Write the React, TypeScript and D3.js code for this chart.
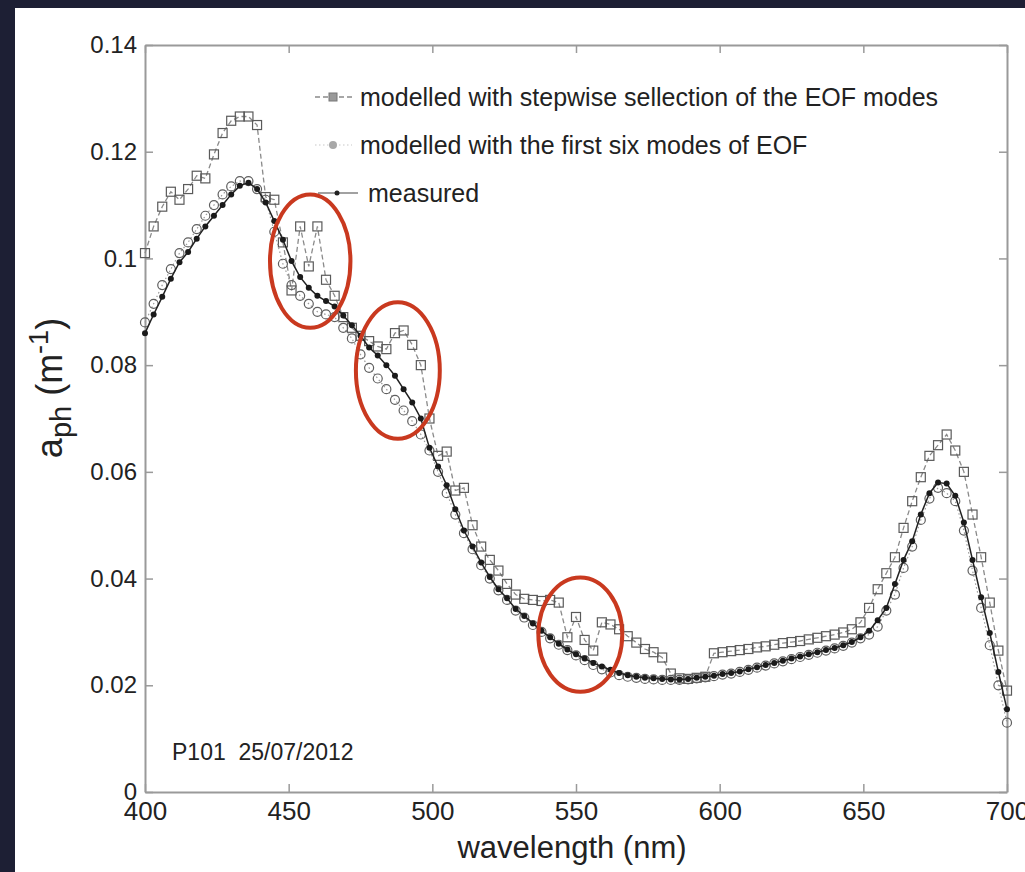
import React, { useEffect, useRef } from "react";
import * as d3 from "d3";

// wavelengths every 3 nm, 400..700
const wavelengths = d3.range(400, 701, 3);

const measured = [
  0.086, 0.0895, 0.0928, 0.0962, 0.0993, 0.1012, 0.1037, 0.106, 0.108, 0.11,
  0.112, 0.1136, 0.1142, 0.113, 0.1105, 0.107, 0.1035, 0.0995, 0.0965, 0.0945,
  0.093, 0.092, 0.091, 0.0893, 0.0875, 0.0855, 0.0833, 0.0818, 0.08, 0.078,
  0.0755, 0.073, 0.07, 0.0645, 0.061, 0.0575, 0.053, 0.049, 0.046, 0.043,
  0.0403, 0.038, 0.0363, 0.0343, 0.033, 0.0316, 0.0302, 0.029, 0.0278, 0.0267,
  0.0258, 0.025, 0.0242, 0.0235, 0.0229, 0.0223, 0.0219, 0.0216, 0.0214, 0.0213,
  0.0212, 0.0211, 0.0211, 0.0212, 0.0214, 0.0216, 0.0218, 0.0221, 0.0223, 0.0226,
  0.023, 0.0234, 0.0238, 0.0242, 0.0246, 0.025, 0.0254, 0.0258, 0.0262, 0.0266,
  0.027, 0.0275, 0.0281, 0.029, 0.0302, 0.0322, 0.0345, 0.039, 0.0435, 0.047,
  0.052, 0.056, 0.058, 0.0578, 0.0555, 0.0505, 0.0435, 0.0365, 0.0298, 0.0225,
  0.0155,
];

const sixModes = [
  0.088, 0.0915, 0.095, 0.098, 0.101, 0.103, 0.1055, 0.108, 0.11, 0.112,
  0.1135, 0.1145, 0.1145, 0.113, 0.111, 0.105, 0.099, 0.095, 0.093, 0.0915,
  0.09, 0.0895, 0.089, 0.087, 0.085, 0.082, 0.0795, 0.0775, 0.0755, 0.0735,
  0.0715, 0.0695, 0.067, 0.064, 0.06, 0.056, 0.052, 0.0485, 0.0455, 0.0425,
  0.04, 0.0378, 0.036, 0.034, 0.0327, 0.0313, 0.03, 0.0288, 0.0276, 0.0266,
  0.0256, 0.0247, 0.0238, 0.023, 0.0224, 0.0219, 0.0216, 0.0214, 0.0212, 0.0211,
  0.021, 0.021, 0.021, 0.0211, 0.0213, 0.0215, 0.0217, 0.022, 0.0222, 0.0225,
  0.0229, 0.0233, 0.0237, 0.0241, 0.0245, 0.0249, 0.0253, 0.0257, 0.0261, 0.0265,
  0.0269, 0.0274, 0.028, 0.0288, 0.0295, 0.031, 0.034, 0.037, 0.042, 0.046,
  0.051, 0.055, 0.057, 0.056, 0.0545, 0.049, 0.0415, 0.0345, 0.0275, 0.02,
  0.013,
];

const stepwise = [
  0.101, 0.106, 0.1097, 0.1125, 0.111, 0.113, 0.1155, 0.115, 0.1195, 0.1235,
  0.1258, 0.1266, 0.1266, 0.125, 0.1115, 0.111, 0.103, 0.094, 0.106, 0.0985,
  0.106, 0.096, 0.093, 0.089, 0.087, 0.0855, 0.0845, 0.0835, 0.083, 0.086,
  0.0865, 0.0838, 0.08, 0.07, 0.063, 0.0638, 0.0565, 0.057, 0.05, 0.046,
  0.0435, 0.0415, 0.039, 0.037, 0.0362, 0.036, 0.0358, 0.036, 0.0355, 0.029,
  0.0328, 0.0285, 0.0265, 0.0318, 0.0314, 0.0305, 0.0292, 0.028, 0.0268, 0.0262,
  0.0252, 0.0222, 0.0213, 0.0212, 0.0214, 0.0216, 0.026, 0.0262, 0.0264, 0.0266,
  0.0268, 0.0271, 0.0273, 0.0276, 0.0279, 0.0281, 0.0283, 0.0286, 0.0289, 0.0292,
  0.0295, 0.0299, 0.0305, 0.0318, 0.0345, 0.038, 0.041, 0.044, 0.0495, 0.0545,
  0.059, 0.063, 0.065, 0.067, 0.064, 0.06, 0.052, 0.044, 0.0355, 0.0265,
  0.019,
];

const xTicks = [400, 450, 500, 550, 600, 650, 700];
const yTicks = [0, 0.02, 0.04, 0.06, 0.08, 0.1, 0.12, 0.14];

const legendLabels = [
  "modelled with stepwise sellection of the EOF modes",
  "modelled with the first six modes of EOF",
  "measured",
];

// highlighted wavelength regions [centre nm, centre value, half width nm, half height]
const highlights = [
  [457.5, 0.0995, 14, 0.0125],
  [488, 0.079, 14.6, 0.0128],
  [551.5, 0.0295, 14.6, 0.0107],
];

const FONT = "'Liberation Sans', Arial, Helvetica, sans-serif";
const INK = "#222";

function App() {
  const svgRef = useRef<SVGSVGElement>(null);

  useEffect(() => {
    const w = 1025;
    const h = 872;
    const svg = d3.select(svgRef.current).attr("width", w).attr("height", h);
    svg.selectAll("*").remove();

    // slide background + white figure
    svg.append("rect").attr("width", w).attr("height", h).attr("fill", "#1d1f34");
    svg.append("rect").attr("x", 15).attr("y", 8).attr("width", w - 15).attr("height", h - 8).attr("fill", "#ffffff");

    const x = d3.scaleLinear().domain([400, 700]).range([145, 1007]);
    const y = d3.scaleLinear().domain([0, 0.14]).range([792, 45]);

    const fmt = (d) => String(+(+d).toFixed(2));

    const styleAxis = (g, size) => {
      g.select(".domain").attr("stroke", "#9a9a9a").attr("stroke-width", 2);
      g.selectAll(".tick line").attr("stroke", "#9a9a9a").attr("stroke-width", 1.5);
      g.selectAll(".tick text").attr("fill", INK).attr("font-size", size).attr("font-family", FONT);
    };

    svg.append("g")
      .attr("transform", `translate(0, ${y(0)})`)
      .call(d3.axisBottom(x).tickValues(xTicks).tickSizeInner(-8).tickSizeOuter(0).tickPadding(10).tickFormat(d3.format("d")))
      .call((g) => styleAxis(g, 26));
    svg.append("g")
      .attr("transform", `translate(0, ${y(0.14)})`)
      .call(d3.axisTop(x).tickValues(xTicks).tickSizeInner(-8).tickSizeOuter(0).tickFormat(() => ""))
      .call((g) => styleAxis(g, 26));
    svg.append("g")
      .attr("transform", `translate(${x(400)}, 0)`)
      .call(d3.axisLeft(y).tickValues(yTicks).tickSizeInner(-8).tickSizeOuter(0).tickPadding(8).tickFormat(fmt))
      .call((g) => styleAxis(g, 24));
    svg.append("g")
      .attr("transform", `translate(${x(700)}, 0)`)
      .call(d3.axisRight(y).tickValues(yTicks).tickSizeInner(-8).tickSizeOuter(0).tickFormat(() => ""))
      .call((g) => styleAxis(g, 24));

    const rows = wavelengths.map((nm, i) => ({ nm, m: measured[i], c: sixModes[i], s: stepwise[i] }));

    // stepwise: dashed line + open squares
    svg.append("path")
      .datum(rows)
      .attr("fill", "none")
      .attr("stroke", "#8a8a8a")
      .attr("stroke-width", 1.3)
      .attr("stroke-dasharray", "5,3")
      .attr("d", d3.line().x((d) => x(d.nm)).y((d) => y(d.s)));
    svg.append("g")
      .selectAll("rect")
      .data(rows)
      .join("rect")
      .attr("x", (d) => x(d.nm) - 4.5)
      .attr("y", (d) => y(d.s) - 4.5)
      .attr("width", 9)
      .attr("height", 9)
      .attr("fill", "none")
      .attr("stroke", "#5a5a5a")
      .attr("stroke-width", 1.2);

    // six modes: dotted line + open circles
    svg.append("path")
      .datum(rows)
      .attr("fill", "none")
      .attr("stroke", "#9a9a9a")
      .attr("stroke-width", 1.2)
      .attr("stroke-dasharray", "1.5,2.5")
      .attr("d", d3.line().x((d) => x(d.nm)).y((d) => y(d.c)));
    svg.append("g")
      .selectAll("circle")
      .data(rows)
      .join("circle")
      .attr("cx", (d) => x(d.nm))
      .attr("cy", (d) => y(d.c))
      .attr("r", 4.5)
      .attr("fill", "none")
      .attr("stroke", "#5e5e5e")
      .attr("stroke-width", 1.2);

    // measured: solid line + filled dots
    svg.append("path")
      .datum(rows)
      .attr("fill", "none")
      .attr("stroke", "#222")
      .attr("stroke-width", 1.5)
      .attr("d", d3.line().x((d) => x(d.nm)).y((d) => y(d.m)));
    svg.append("g")
      .selectAll("circle")
      .data(rows)
      .join("circle")
      .attr("cx", (d) => x(d.nm))
      .attr("cy", (d) => y(d.m))
      .attr("r", 3)
      .attr("fill", "#1a1a1a");

    // red ellipses
    svg.append("g")
      .selectAll("ellipse")
      .data(highlights)
      .join("ellipse")
      .attr("cx", (d) => x(d[0]))
      .attr("cy", (d) => y(d[1]))
      .attr("rx", (d) => x(d[0] + d[2]) - x(d[0]))
      .attr("ry", (d) => y(d[1] - d[3]) - y(d[1]))
      .attr("fill", "none")
      .attr("stroke", "#c9391f")
      .attr("stroke-width", 4);

    // legend
    const leg = svg.append("g").attr("font-family", FONT).attr("font-size", 25).attr("fill", INK);
    const ly = [97, 145, 193];
    leg.append("line").attr("x1", 315).attr("x2", 352).attr("y1", ly[0]).attr("y2", ly[0])
      .attr("stroke", "#8a8a8a").attr("stroke-width", 1.3).attr("stroke-dasharray", "5,3");
    leg.append("rect").attr("x", 329).attr("y", ly[0] - 4).attr("width", 8).attr("height", 8)
      .attr("fill", "#9a9a9a").attr("stroke", "#777");
    leg.append("line").attr("x1", 315).attr("x2", 352).attr("y1", ly[1]).attr("y2", ly[1])
      .attr("stroke", "#c8c8c8").attr("stroke-width", 1.2).attr("stroke-dasharray", "1.5,2.5");
    leg.append("circle").attr("cx", 333).attr("cy", ly[1]).attr("r", 4).attr("fill", "#a8a8a8");
    leg.append("line").attr("x1", 318).attr("x2", 358).attr("y1", ly[2]).attr("y2", ly[2])
      .attr("stroke", "#444").attr("stroke-width", 1.2);
    leg.append("circle").attr("cx", 337).attr("cy", ly[2]).attr("r", 2.5).attr("fill", "#222");
    leg.selectAll("text")
      .data(legendLabels)
      .join("text")
      .attr("x", (d, i) => (i === 2 ? 368 : 360))
      .attr("y", (d, i) => ly[i])
      .attr("dy", "0.35em")
      .text((d) => d);

    // annotation
    svg.append("text")
      .attr("x", 172)
      .attr("y", 760)
      .attr("font-family", FONT)
      .attr("font-size", 23)
      .attr("fill", INK)
      .style("white-space", "pre")
      .text("P101  25/07/2012");

    // axis labels
    svg.append("text")
      .attr("x", 572)
      .attr("y", 858)
      .attr("text-anchor", "middle")
      .attr("font-family", FONT)
      .attr("font-size", 31)
      .attr("fill", INK)
      .text("wavelength (nm)");

    const yl = svg.append("text")
      .attr("transform", "translate(62, 388) rotate(-90)")
      .attr("text-anchor", "middle")
      .attr("font-family", FONT)
      .attr("font-size", 36)
      .attr("fill", INK);
    yl.append("tspan").text("a");
    yl.append("tspan").attr("dy", 9).attr("font-size", 29).text("ph");
    yl.append("tspan").attr("dy", -9).text(" (m");
    yl.append("tspan").attr("dy", -14).attr("font-size", 27).text("-1");
    yl.append("tspan").attr("dy", 14).text(")");
  }, []);

  return <svg ref={svgRef} style={{ position: "fixed", left: 0, top: 0 }}></svg>;
}

export default App;
